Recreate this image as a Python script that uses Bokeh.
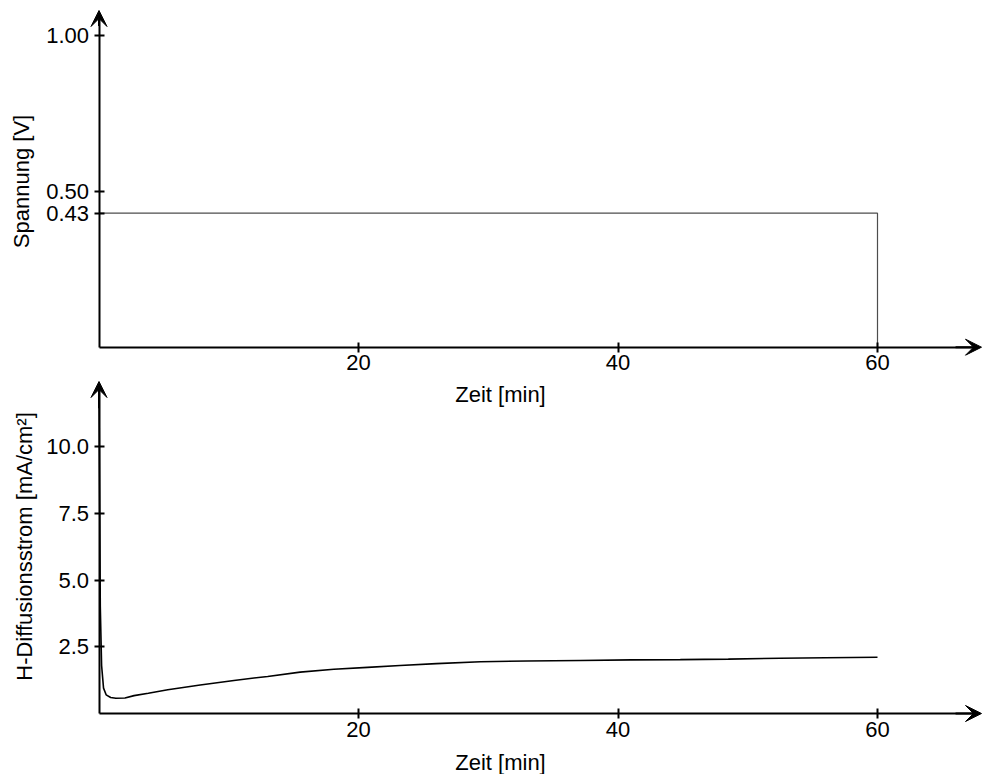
from bokeh.plotting import figure
from bokeh.models import (Range1d, LinearAxis, FixedTicker, PrintfTickFormatter,
                          Arrow, VeeHead, Label)
from bokeh.embed import file_html
from bokeh.resources import INLINE

# ---------------- data ----------------
time_v = [0, 60, 60]
voltage = [0.43, 0.43, 0.0]

time_i = [0, 0.1, 0.2, 0.35, 0.55, 0.9, 1.3, 2.0, 2.7, 3.8, 5.3, 7.8, 10.4,
          13.0, 15.5, 18.1, 20.7, 23.2, 26.0, 29.4, 33.0, 37.1, 41.0, 44.8,
          48.5, 52.5, 56.0, 60.0]
current = [12.2, 4.0, 1.8, 0.95, 0.7, 0.6, 0.57, 0.58, 0.67, 0.76, 0.89, 1.07,
           1.24, 1.39, 1.55, 1.66, 1.73, 1.80, 1.87, 1.94, 1.97, 1.99, 2.01,
           2.02, 2.04, 2.07, 2.09, 2.11]

x_ticks = [20, 40, 60]
v_ticks = [0.43, 0.50, 1.00]
i_ticks = [2.5, 5.0, 7.5, 10.0]

x_label = "Zeit [min]"
v_label = "Spannung [V]"
i_label = "H-Diffusionsstrom [mA/cm²]"

# ---------------- geometry (canvas pixels) ----------------
W, H = 982, 774
x0_px, px_per_min = 98.5, 12.975
v0, vk = 346.7, 311.7     # y pixel of V=0 and px per V
i0, ik = 713.0, 26.67     # y pixel of I=0 and px per unit

x_start, x_end = -x0_px / px_per_min, (W - x0_px) / px_per_min
v_start, v_end = -(H - v0) / vk, v0 / vk
i_start, i_end = -(H - i0) / ik, i0 / ik

def px_to_x(px):
    return (px - x0_px) / px_per_min

def py_to_v(py):
    return (v0 - py) / vk

def py_to_i(py):
    return (i0 - py) / ik

FONT = "Liberation Sans"

p = figure(width=W, height=H, x_range=Range1d(x_start, x_end),
           y_range=Range1d(i_start, i_end),
           x_axis_location=None, y_axis_location=None,
           output_backend="svg", toolbar_location=None,
           min_border_left=0, min_border_right=0,
           min_border_top=0, min_border_bottom=0)
p.extra_y_ranges = {"top": Range1d(v_start, v_end)}
p.outline_line_color = None
p.grid.visible = False
p.background_fill_color = "white"
p.border_fill_color = "white"

def style_axis(ax, ticks, fmt, standoff):
    ax.ticker = FixedTicker(ticks=ticks)
    ax.formatter = PrintfTickFormatter(format=fmt)
    ax.axis_line_width = 2
    ax.axis_line_color = "black"
    ax.major_tick_line_width = 2
    ax.major_tick_line_color = "black"
    ax.major_tick_in = 5
    ax.major_tick_out = 5
    ax.minor_tick_line_color = None
    ax.major_label_text_font = FONT
    ax.major_label_text_font_size = "22px"
    ax.major_label_text_color = "black"
    ax.major_label_standoff = standoff

x_tip = px_to_x(981)
v_tip = py_to_v(10)
i_tip = py_to_i(381)

# top panel axes
ax_top_x = LinearAxis(y_range_name="top", fixed_location=0, bounds=(0, x_tip - 0.5))
style_axis(ax_top_x, x_ticks, "%d", 3)
p.add_layout(ax_top_x, "below")
ax_top_y = LinearAxis(y_range_name="top", fixed_location=0, bounds=(0, v_tip - 0.02))
style_axis(ax_top_y, v_ticks, "%.2f", 5)
p.add_layout(ax_top_y, "left")

# bottom panel axes
ax_bot_x = LinearAxis(fixed_location=0, bounds=(0, x_tip - 0.5))
style_axis(ax_bot_x, x_ticks, "%d", 3)
p.add_layout(ax_bot_x, "below")
ax_bot_y = LinearAxis(fixed_location=0, bounds=(0, i_tip - 0.2))
style_axis(ax_bot_y, i_ticks, "%.1f", 5)
p.add_layout(ax_bot_y, "left")

def head():
    return VeeHead(size=16, line_color="black", fill_color="black", line_width=1)

p.add_layout(Arrow(end=head(), x_start=x_tip - 2, y_start=0, x_end=x_tip, y_end=0,
                   y_range_name="top", line_width=2, line_color="black"))
p.add_layout(Arrow(end=head(), x_start=0, y_start=v_tip - 0.05, x_end=0, y_end=v_tip,
                   y_range_name="top", line_width=2, line_color="black"))
p.add_layout(Arrow(end=head(), x_start=x_tip - 2, y_start=0, x_end=x_tip, y_end=0,
                   line_width=2, line_color="black"))
p.add_layout(Arrow(end=head(), x_start=0, y_start=i_tip - 1, x_end=0, y_end=i_tip,
                   line_width=2, line_color="black"))

# data lines
p.line(time_v, voltage, y_range_name="top", line_color="#4d4d4d", line_width=1.2)
p.line(time_i, current, line_color="black", line_width=1.6)

# axis titles
def lab(x, y, text, rng=None, angle=0):
    kw = dict(x=x, y=y, text=text, angle=angle, angle_units="deg",
              text_align="center", text_baseline="middle",
              text_font=FONT, text_font_size="22px", text_color="black")
    if rng:
        kw["y_range_name"] = rng
    p.add_layout(Label(**kw))

lab(px_to_x(500), py_to_v(394), x_label, rng="top")
lab(px_to_x(500), py_to_i(762), x_label)
lab(px_to_x(21), py_to_v(181), v_label, rng="top", angle=90)
lab(px_to_x(24), py_to_i(546), i_label, angle=90)

open("out.html", "w").write(file_html(p, INLINE))
